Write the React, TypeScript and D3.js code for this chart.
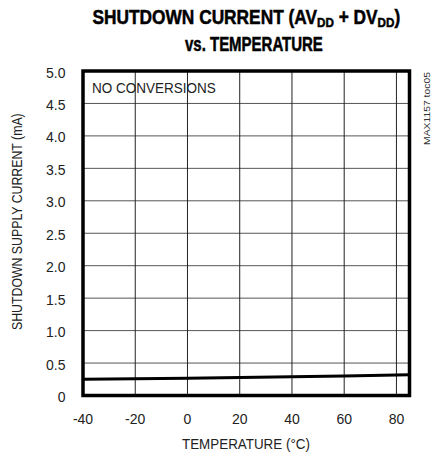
import React, { useLayoutEffect, useRef, useState } from "react";
import * as d3 from "d3";

const temperatures = [-40, -20, 0, 20, 40, 60, 85];
const currents = [0.25, 0.258, 0.267, 0.277, 0.288, 0.299, 0.318];
const xTicks = [-40, -20, 0, 20, 40, 60, 80];
const yTicks = [0, 0.5, 1.0, 1.5, 2.0, 2.5, 3.0, 3.5, 4.0, 4.5, 5.0];

const W = 432;
const H = 457;
const M = { left: 83, right: 409.5, top: 71, bottom: 395.5 };
const FONT = "'Liberation Sans', Arial, sans-serif";

type FitProps = {
  x: number;
  y: number;
  width: number;
  rotate?: number;
  children: React.ReactNode;
  [k: string]: any;
};

function FitText({ x, y, width, rotate = 0, children, ...rest }: FitProps) {
  const ref = useRef<SVGTextElement>(null);
  const [s, setS] = useState(1);
  useLayoutEffect(() => {
    if (ref.current) {
      const w = ref.current.getBBox().width;
      if (w > 0) setS(width / w);
    }
  }, [width]);
  return (
    <g transform={`translate(${x},${y}) rotate(${rotate}) scale(${s},1)`}>
      <text ref={ref} x={0} y={0} {...rest}>
        {children}
      </text>
    </g>
  );
}

export default function App() {
  const x = d3.scaleLinear().domain([-40, 85]).range([M.left, M.right]);
  const y = d3.scaleLinear().domain([0, 5]).range([M.bottom, M.top]);
  const data = temperatures.map((t, i) => [t, currents[i]] as [number, number]);
  const line = d3
    .line<[number, number]>()
    .x((d) => x(d[0]))
    .y((d) => y(d[1]));

  return (
    <svg
      width={W}
      height={H}
      style={{ position: "absolute", left: 0, top: 0, background: "#fff" }}
      fontFamily={FONT}
    >
      <rect x={0} y={0} width={W} height={H} fill="#fff" />
      <FitText
        x={92.5}
        y={24}
        width={308}
        fontSize={20}
        fontWeight="bold"
        fill="#000"
        stroke="#000"
        strokeWidth={0.5}
      >
        SHUTDOWN CURRENT (AV
        <tspan fontSize={13.5} dy={3}>DD</tspan>
        <tspan dy={-3}> + DV</tspan>
        <tspan fontSize={13.5} dy={3}>DD</tspan>
        <tspan dy={-3}>)</tspan>
      </FitText>
      <FitText
        x={185}
        y={50.5}
        width={138}
        fontSize={20}
        fontWeight="bold"
        fill="#000"
        stroke="#000"
        strokeWidth={0.5}
      >
        vs. TEMPERATURE
      </FitText>

      {yTicks.map((v) => (
        <line key={"h" + v} x1={M.left} x2={M.right} y1={y(v)} y2={y(v)} stroke="#555" strokeWidth={1} />
      ))}
      {xTicks.map((v) => (
        <line key={"v" + v} x1={x(v)} x2={x(v)} y1={M.top} y2={M.bottom} stroke="#222" strokeWidth={1} />
      ))}

      <path d={line(data) || ""} fill="none" stroke="#000" strokeWidth={3} />

      <rect
        x={M.left}
        y={M.top}
        width={M.right - M.left}
        height={M.bottom - M.top}
        fill="none"
        stroke="#000"
        strokeWidth={3.5}
      />

      {yTicks.map((v) => (
        <text key={"yl" + v} x={65.5} y={y(v) + 6.5} textAnchor="end" fontSize={14} fill="#222">
          {v === 0 ? "0" : v.toFixed(1)}
        </text>
      ))}
      {xTicks.map((v) => (
        <text key={"xl" + v} x={x(v)} y={424} textAnchor="middle" fontSize={14} fill="#222">
          {v < 0 ? "-" + Math.abs(v) : String(v)}
        </text>
      ))}

      <FitText x={182} y={449} width={128} fontSize={14.5} fill="#222">
        TEMPERATURE (°C)
      </FitText>
      <FitText x={21.5} y={330} rotate={-90} width={217} fontSize={14.5} fill="#222">
        SHUTDOWN SUPPLY CURRENT (mA)
      </FitText>

      <FitText x={92} y={93} width={124} fontSize={15} fill="#222">
        NO CONVERSIONS
      </FitText>

      <FitText x={430} y={145} rotate={-90} width={73} fontSize={9.5} fill="#333">
        MAX1157 toc05
      </FitText>
    </svg>
  );
}
